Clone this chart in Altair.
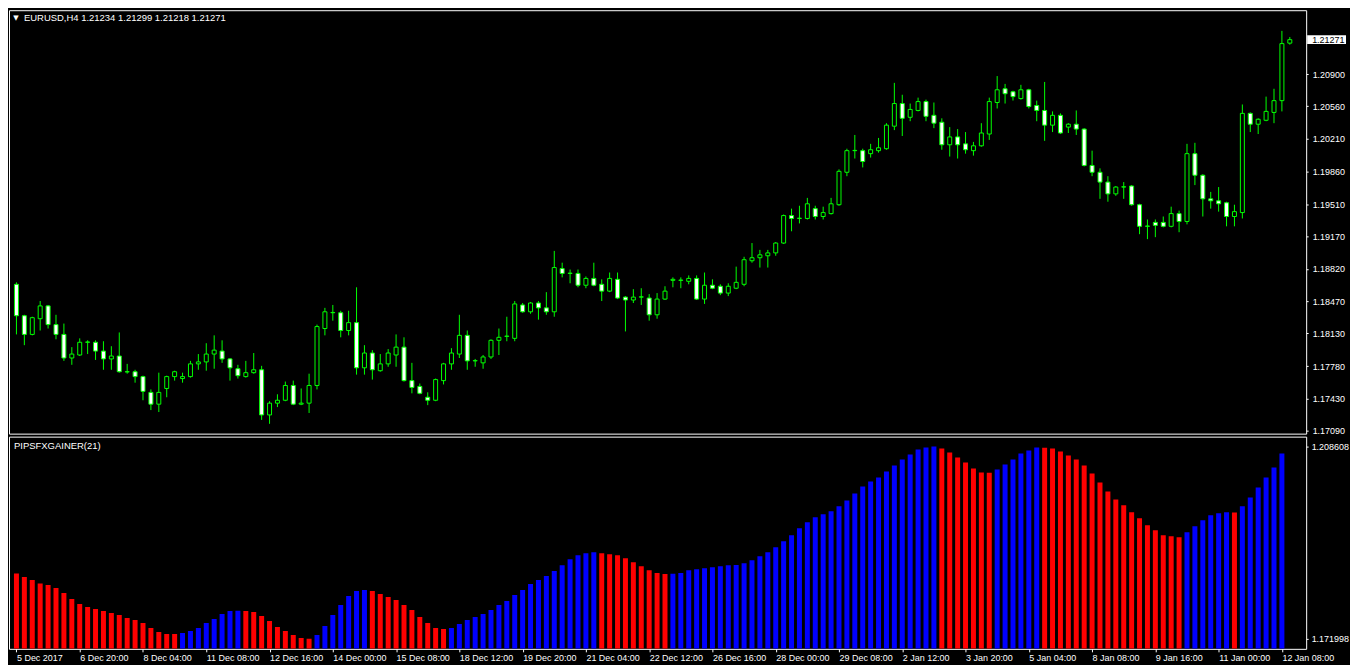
import json
import altair as alt
import pandas as pd

# ---------------- data ----------------
opens = [
    1.18655, 1.18319, 1.18119, 1.18287, 1.18424, 1.18224, 1.18119, 1.17867, 1.17899, 1.18035,
    1.18035, 1.17941, 1.17857, 1.17888, 1.17720, 1.17720, 1.17668, 1.17499, 1.17373, 1.17541,
    1.17668, 1.17647, 1.17668, 1.17804, 1.17825, 1.17909, 1.17941, 1.17857, 1.17752, 1.17668,
    1.17710, 1.17741, 1.17258, 1.17384, 1.17415, 1.17573, 1.17373, 1.17384, 1.17573, 1.18182,
    1.18351, 1.18351, 1.18161, 1.18245, 1.17762, 1.17920, 1.17731, 1.17804, 1.17899, 1.17983,
    1.17625, 1.17563, 1.17447, 1.17415, 1.17625, 1.17804, 1.17909, 1.18109, 1.17836, 1.17815,
    1.17878, 1.18056, 1.18098, 1.18077, 1.18434, 1.18361, 1.18455, 1.18403, 1.18361, 1.18823,
    1.18771, 1.18771, 1.18645, 1.18718, 1.18655, 1.18582, 1.18708, 1.18518, 1.18487, 1.18518,
    1.18508, 1.18329, 1.18497, 1.18697, 1.18697, 1.18687, 1.18718, 1.18497, 1.18645, 1.18634,
    1.18561, 1.18613, 1.18655, 1.18907, 1.18939, 1.18960, 1.18991, 1.19096, 1.19390, 1.19359,
    1.19359, 1.19464, 1.19380, 1.19411, 1.19506, 1.19853, 1.20084, 1.20084, 1.20052, 1.20084,
    1.20105, 1.20346, 1.20588, 1.20441, 1.20514, 1.20609, 1.20462, 1.20388, 1.20147, 1.20231,
    1.20157, 1.20084, 1.20136, 1.20262, 1.20599, 1.20746, 1.20714, 1.20641, 1.20735, 1.20567,
    1.20514, 1.20357, 1.20462, 1.20336, 1.20367, 1.20315, 1.19926, 1.19853, 1.19748, 1.19622,
    1.19695, 1.19706, 1.19506, 1.19275, 1.19317, 1.19317, 1.19275, 1.19411, 1.19327, 1.20052,
    1.19821, 1.19569, 1.19548, 1.19527, 1.19380, 1.19422, 1.20483, 1.20367, 1.20409, 1.20493,
    1.20619, 1.21234,
]
highs = [
    1.18676, 1.18329, 1.18308, 1.18476, 1.18434, 1.18329, 1.18235, 1.17983, 1.18077, 1.18056,
    1.18056, 1.18046, 1.17993, 1.18140, 1.17804, 1.17741, 1.17678, 1.17531, 1.17710, 1.17678,
    1.17731, 1.17710, 1.17836, 1.17909, 1.18025, 1.18109, 1.18056, 1.17867, 1.17794, 1.17836,
    1.17920, 1.17783, 1.17405, 1.17479, 1.17615, 1.17625, 1.17541, 1.17699, 1.18224, 1.18403,
    1.18434, 1.18372, 1.18372, 1.18623, 1.18004, 1.17951, 1.17909, 1.17962, 1.18119, 1.18088,
    1.17815, 1.17594, 1.17500, 1.17647, 1.17815, 1.17972, 1.18329, 1.18161, 1.17857, 1.17899,
    1.18067, 1.18182, 1.18308, 1.18476, 1.18455, 1.18466, 1.18476, 1.18571, 1.19012, 1.18886,
    1.18813, 1.18813, 1.18739, 1.18886, 1.18708, 1.18781, 1.18781, 1.18529, 1.18603, 1.18613,
    1.18550, 1.18561, 1.18634, 1.18729, 1.18729, 1.18750, 1.18750, 1.18781, 1.18708, 1.18655,
    1.18666, 1.18844, 1.18949, 1.19096, 1.19023, 1.19023, 1.19107, 1.19401, 1.19464, 1.19495,
    1.19579, 1.19495, 1.19485, 1.19579, 1.19884, 1.20105, 1.20252, 1.20105, 1.20157, 1.20220,
    1.20378, 1.20809, 1.20682, 1.20588, 1.20651, 1.20630, 1.20599, 1.20430, 1.20336, 1.20315,
    1.20283, 1.20178, 1.20378, 1.20651, 1.20882, 1.20798, 1.20725, 1.20788, 1.20746, 1.20619,
    1.20819, 1.20504, 1.20483, 1.20378, 1.20514, 1.20325, 1.20084, 1.19895, 1.19811, 1.19706,
    1.19748, 1.19716, 1.19516, 1.19348, 1.19348, 1.19380, 1.19485, 1.19443, 1.20157, 1.20168,
    1.19832, 1.19643, 1.19695, 1.19538, 1.19506, 1.20578, 1.20493, 1.20430, 1.20662, 1.20746,
    1.21365, 1.21299,
]
lows = [
    1.18119, 1.18004, 1.18109, 1.18161, 1.18182, 1.18067, 1.17836, 1.17794, 1.17888, 1.17909,
    1.17846, 1.17741, 1.17741, 1.17710, 1.17699, 1.17603, 1.17415, 1.17310, 1.17289, 1.17447,
    1.17625, 1.17603, 1.17657, 1.17741, 1.17731, 1.17752, 1.17815, 1.17625, 1.17647, 1.17657,
    1.17699, 1.17205, 1.17163, 1.17342, 1.17405, 1.17363, 1.17363, 1.17279, 1.17531, 1.18109,
    1.18266, 1.18088, 1.18109, 1.17689, 1.17689, 1.17636, 1.17720, 1.17773, 1.17773, 1.17615,
    1.17489, 1.17479, 1.17363, 1.17405, 1.17584, 1.17741, 1.17867, 1.17741, 1.17773, 1.17752,
    1.17857, 1.17899, 1.18046, 1.18046, 1.18351, 1.18340, 1.18277, 1.18329, 1.18308, 1.18729,
    1.18666, 1.18623, 1.18613, 1.18634, 1.18476, 1.18571, 1.18497, 1.18151, 1.18455, 1.18434,
    1.18266, 1.18287, 1.18487, 1.18623, 1.18613, 1.18655, 1.18487, 1.18445, 1.18603, 1.18539,
    1.18529, 1.18603, 1.18634, 1.18886, 1.18834, 1.18834, 1.18960, 1.19086, 1.19222, 1.19306,
    1.19348, 1.19348, 1.19348, 1.19401, 1.19495, 1.19811, 1.20000, 1.19905, 1.20010, 1.20063,
    1.20094, 1.20304, 1.20241, 1.20399, 1.20504, 1.20399, 1.20325, 1.20094, 1.20021, 1.20000,
    1.20052, 1.20031, 1.20126, 1.20199, 1.20535, 1.20588, 1.20620, 1.20630, 1.20535, 1.20399,
    1.20189, 1.20283, 1.20262, 1.20273, 1.20252, 1.19916, 1.19811, 1.19569, 1.19538, 1.19601,
    1.19569, 1.19495, 1.19191, 1.19138, 1.19159, 1.19264, 1.19264, 1.19212, 1.19296, 1.19716,
    1.19380, 1.19464, 1.19432, 1.19275, 1.19275, 1.19359, 1.20283, 1.20262, 1.20399, 1.20378,
    1.20504, 1.21218,
]
closes = [
    1.18319, 1.18119, 1.18298, 1.18424, 1.18224, 1.18119, 1.17867, 1.17909, 1.18035, 1.18038,
    1.17941, 1.17857, 1.17888, 1.17720, 1.17718, 1.17668, 1.17510, 1.17373, 1.17499, 1.17668,
    1.17720, 1.17668, 1.17804, 1.17825, 1.17909, 1.17951, 1.17857, 1.17762, 1.17678, 1.17710,
    1.17741, 1.17258, 1.17384, 1.17415, 1.17573, 1.17373, 1.17384, 1.17573, 1.18203, 1.18361,
    1.18354, 1.18161, 1.18245, 1.17762, 1.17920, 1.17741, 1.17804, 1.17920, 1.17983, 1.17625,
    1.17552, 1.17489, 1.17415, 1.17636, 1.17804, 1.17920, 1.18109, 1.17836, 1.17839, 1.17878,
    1.18056, 1.18088, 1.18101, 1.18445, 1.18361, 1.18455, 1.18403, 1.18361, 1.18834, 1.18771,
    1.18774, 1.18645, 1.18718, 1.18645, 1.18582, 1.18718, 1.18508, 1.18487, 1.18518, 1.18521,
    1.18329, 1.18497, 1.18582, 1.18708, 1.18700, 1.18718, 1.18497, 1.18645, 1.18613, 1.18561,
    1.18634, 1.18676, 1.18918, 1.18939, 1.18970, 1.18991, 1.19096, 1.19390, 1.19359, 1.19362,
    1.19516, 1.19380, 1.19422, 1.19516, 1.19863, 1.20084, 1.20087, 1.19968, 1.20094, 1.20115,
    1.20357, 1.20588, 1.20430, 1.20525, 1.20609, 1.20451, 1.20378, 1.20147, 1.20231, 1.20147,
    1.20094, 1.20136, 1.20273, 1.20609, 1.20735, 1.20693, 1.20662, 1.20735, 1.20556, 1.20514,
    1.20357, 1.20462, 1.20273, 1.20367, 1.20315, 1.19926, 1.19853, 1.19748, 1.19622, 1.19695,
    1.19698, 1.19506, 1.19275, 1.19278, 1.19285, 1.19275, 1.19411, 1.19327, 1.20052, 1.19821,
    1.19569, 1.19548, 1.19516, 1.19380, 1.19432, 1.20483, 1.20367, 1.20420, 1.20504, 1.20619,
    1.21229, 1.21271,
]

# PIPSFXGAINER(21) histogram values (no value on the last, still-open bar)
gainer = [
    1.184461, 1.183759, 1.183190, 1.182564, 1.182241, 1.181672, 1.180724, 1.179586, 1.178637, 1.178068,
    1.177689, 1.177309, 1.176930, 1.176551, 1.175981, 1.175602, 1.175033, 1.174085, 1.173326, 1.172946,
    1.172910, 1.173136, 1.173516, 1.174085, 1.175033, 1.175792, 1.176740, 1.177309, 1.177360, 1.177290,
    1.177120, 1.176361, 1.175412, 1.174274, 1.173516, 1.172757, 1.172188, 1.171998, 1.172757, 1.174464,
    1.176551, 1.178447, 1.180155, 1.181103, 1.181293, 1.181103, 1.180534, 1.179965, 1.179396, 1.178447,
    1.177499, 1.176171, 1.175033, 1.174085, 1.173895, 1.174085, 1.174843, 1.175602, 1.176171, 1.176740,
    1.177499, 1.178447, 1.179206, 1.180344, 1.181293, 1.182431, 1.183190, 1.183948, 1.184897, 1.186035,
    1.187173, 1.187932, 1.188311, 1.188501, 1.188311, 1.188122, 1.187932, 1.187363, 1.186604, 1.185845,
    1.185087, 1.184518, 1.184328, 1.184380, 1.184518, 1.185087, 1.185276, 1.185466, 1.185656, 1.185845,
    1.186035, 1.186080, 1.186414, 1.186984, 1.187742, 1.188501, 1.189449, 1.190588, 1.191726, 1.193054,
    1.194192, 1.195140, 1.195709, 1.196278, 1.197227, 1.198365, 1.199693, 1.201021, 1.201969, 1.202728,
    1.203866, 1.205004, 1.206142, 1.207091, 1.208039, 1.208419, 1.208608, 1.208229, 1.207470, 1.206522,
    1.205573, 1.204435, 1.203676, 1.203640, 1.204245, 1.205194, 1.206142, 1.207280, 1.207849, 1.208419,
    1.208380, 1.208229, 1.207660, 1.206901, 1.206142, 1.205004, 1.203487, 1.201779, 1.200072, 1.198555,
    1.197416, 1.196089, 1.194950, 1.193623, 1.192674, 1.191726, 1.191536, 1.191346, 1.192295, 1.193433,
    1.194571, 1.195520, 1.195899, 1.196089, 1.196050, 1.197227, 1.198934, 1.200831, 1.202728, 1.204625,
    1.207280,
]
# bar colour per histogram bar: R = red (falling), B = blue (rising)
gainer_color = (
    "RRRRRRRRRRRRRRRRRRRRR"                 # 0-20
    "BBBBBBBB"                              # 21-28
    "RRRRRRRRR"                             # 29-37
    "BBBBBBB"                               # 38-44
    "RRRRRRRRRR"                            # 45-54
    "BBBBBBBBBBBBBBBBBBB"                   # 55-73
    "RRRRRRRRR"                             # 74-82
    "BBBBBBBBBBBBBBBBBBBBBBBBBBBBBBBBBB"    # 83-116
    "RRRRRRR"                               # 117-123
    "BBBBBB"                                # 124-129
    "RRRRRRRRRRRRRRRRRR"                    # 130-147
    "BBBBBB"                                # 148-153
    "R"                                     # 154
    "BBBBBB"                                # 155-160
)

time_tick_index = [0, 8, 16, 24, 32, 40, 48, 56, 64, 72, 80, 88, 96, 104, 112, 120, 128, 136, 144, 152, 160]
time_tick_text = [
    "5 Dec 2017", "6 Dec 20:00", "8 Dec 04:00", "11 Dec 08:00", "12 Dec 16:00", "14 Dec 00:00",
    "15 Dec 08:00", "18 Dec 12:00", "19 Dec 20:00", "21 Dec 04:00", "22 Dec 12:00", "26 Dec 16:00",
    "28 Dec 00:00", "29 Dec 08:00", "2 Jan 12:00", "3 Jan 20:00", "5 Jan 04:00", "8 Jan 08:00",
    "9 Jan 16:00", "11 Jan 00:00", "12 Jan 08:00",
]
price_ticks = [1.20900, 1.20560, 1.20210, 1.19860, 1.19510, 1.19170, 1.18820,
               1.18470, 1.18130, 1.17780, 1.17430, 1.17090]
gainer_ticks = [1.171998, 1.208608]
symbol_text = "EURUSD,H4  1.21234 1.21299 1.21218 1.21271"
indicator_text = "PIPSFXGAINER(21)"
last_price = closes[-1]

# ---------------- layout / style ----------------
W = 1302
H1 = 425
H2 = 213
FONT = "Liberation Sans"
FS = 9
FS_TITLE = 9.5
GREEN = "#00ff00"
BOX_HALF = 0.00047   # half height of the current-price tag, in price units

xscale = alt.Scale(domain=[-0.3125, 162.4375], nice=False, zero=False)
yscale1 = alt.Scale(domain=[1.17058, 1.21586], nice=False, zero=False)
yscale2 = alt.Scale(domain=[1.170101, 1.210505], nice=False, zero=False)

yaxis1 = alt.Axis(orient="right", values=price_ticks, format=".5f", title=None,
                  tickSize=2, labelPadding=4, domain=False, grid=False,
                  labelColor="white", tickColor="white", labelFont=FONT, labelFontSize=FS)
yaxis2 = alt.Axis(orient="right", values=gainer_ticks, format=".6f", title=None,
                  tickSize=2, labelPadding=3, domain=False, grid=False,
                  labelColor="white", tickColor="white", labelFont=FONT, labelFontSize=FS)

label_expr = "%s[indexof(%s, datum.value)]" % (json.dumps(time_tick_text), json.dumps(time_tick_index))
xaxis2 = alt.Axis(values=time_tick_index, labelExpr=label_expr, title=None,
                  labelAlign="left", labelPadding=2, tickSize=3,
                  labelOverlap=False, labelFlush=False,
                  domain=False, grid=False, labelColor="white", tickColor="white",
                  labelFont=FONT, labelFontSize=FS)

candles = pd.DataFrame({
    "i": list(range(len(opens))),
    "open": opens, "high": highs, "low": lows, "close": closes,
})
candles["dir"] = ["up" if c >= o else "down" for o, c in zip(opens, closes)]

hist = pd.DataFrame({
    "i": list(range(len(gainer))),
    "v": gainer,
    "c": list(gainer_color),
})

# ---------------- top panel: candlesticks ----------------
wicks = alt.Chart(candles).mark_rule(color=GREEN, strokeWidth=1).encode(
    x=alt.X("i:Q", scale=xscale, axis=None),
    y=alt.Y("low:Q", scale=yscale1, axis=yaxis1),
    y2="high:Q",
)
bodies = alt.Chart(candles).mark_bar(size=4, stroke=GREEN, strokeWidth=1).encode(
    x=alt.X("i:Q", scale=xscale, axis=None),
    y=alt.Y("open:Q", scale=yscale1, axis=yaxis1, stack=None),
    y2="close:Q",
    fill=alt.Fill("dir:N", scale=alt.Scale(domain=["up", "down"], range=["#000000", "#ffffff"]), legend=None),
)
tri = alt.Chart(pd.DataFrame({"t": ["\u25bc"]})).mark_text(
    align="center", baseline="middle", color="white", font="DejaVu Sans", fontSize=7
).encode(x=alt.value(7), y=alt.value(8), text="t:N")
sym = alt.Chart(pd.DataFrame({"t": [symbol_text]})).mark_text(
    align="left", baseline="middle", color="white", font=FONT, fontSize=FS_TITLE
).encode(x=alt.value(15), y=alt.value(8), text="t:N")

price_df = pd.DataFrame({
    "p": [last_price],
    "p_hi": [last_price + BOX_HALF],
    "p_lo": [last_price - BOX_HALF],
    "s": ["%.5f" % last_price],
})
price_box = alt.Chart(price_df).mark_rect(color="white").encode(
    x=alt.value(W + 1), x2=alt.value(W + 40),
    y=alt.Y("p_hi:Q", scale=yscale1, axis=yaxis1), y2="p_lo:Q",
)
price_lbl = alt.Chart(price_df).mark_text(
    align="left", baseline="middle", color="black", font=FONT, fontSize=FS
).encode(x=alt.value(W + 6), y=alt.Y("p:Q", scale=yscale1, axis=yaxis1), text="s:N")

top = alt.layer(wicks, bodies, tri, sym, price_box, price_lbl).properties(width=W, height=H1)

# ---------------- bottom panel: indicator histogram ----------------
bars = alt.Chart(hist).mark_bar(size=5, clip=True).encode(
    x=alt.X("i:Q", scale=xscale, axis=xaxis2),
    y=alt.Y("v:Q", scale=yscale2, axis=yaxis2, stack=None),
    y2=alt.value(H2),
    color=alt.Color("c:N", scale=alt.Scale(domain=["R", "B"], range=["#ff0000", "#0000ff"]), legend=None),
)
ind = alt.Chart(pd.DataFrame({"t": [indicator_text]})).mark_text(
    align="left", baseline="middle", color="white", font=FONT, fontSize=FS_TITLE
).encode(x=alt.value(5), y=alt.value(9), text="t:N")

bottom = alt.layer(bars, ind).properties(width=W, height=H2)

chart = alt.vconcat(top, bottom, spacing=3, bounds="flush").properties(
    padding={"left": 0, "top": 0, "right": 0, "bottom": 0}
).configure(
    background="black"
).configure_view(
    stroke="white", strokeWidth=1
)

chart.save("out.html", embed_options={"renderer": "svg", "actions": False})
